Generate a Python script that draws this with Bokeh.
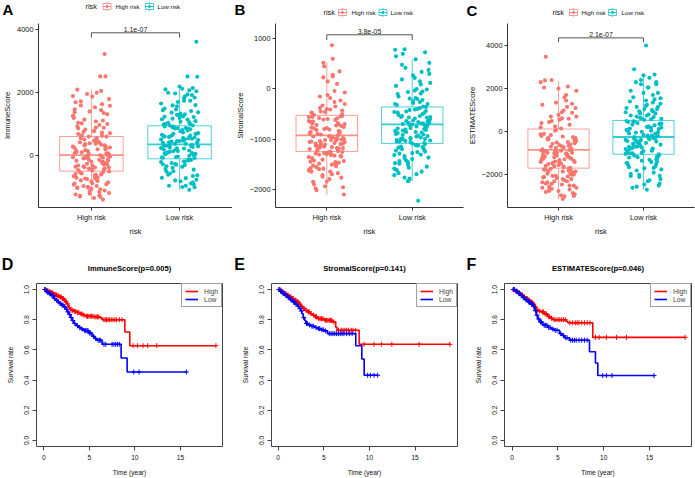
import numpy as np
from bokeh.plotting import figure
from bokeh.layouts import row, column
from bokeh.models import (FixedTicker, Label, Legend, LegendItem, PrintfTickFormatter, Range1d)
from bokeh.core.properties import value
from bokeh.embed import file_html
from bokeh.resources import INLINE

FONT = "Liberation Sans"
GG_RED = "#F8766D"
GG_CYAN = "#00BFC4"
R_RED = "#FF0000"
R_BLUE = "#0000FF"

# ---------------- data: box plots (High risk, Low risk) ----------------
GROUPS = ["High risk", "Low risk"]
GROUP_X = [1, 2]

IMM_Q1 = [-487, -95]
IMM_MED = [21, 360]
IMM_Q3 = [614, 952]
IMM_LO = [-1386, -1080]
IMM_HI = [2095, 2200]
IMM_HIGH = [-1390, 250, 1540, -720, 40, -310, 980, -1120, 610, -45, 1880, -560, 330, -960, 120, 2060, -250, 720,
            -1290, 480, -80, 1320, -650, 210, -410, 890, -1010, 15, 1150, -840, 560, -190, 2520, -1230, 380, -30,
            1640, -530, 90, -370, 830, -1180, 690, -130, 1410, -900, 290, -470, 1030, 3230, -760, 160, -590, 1960,
            -20, 430, -1340, 760, -280, 1230, -680, 60, -440, 940, -1060, 520, -150, 1730, -810, 240, -350, 1090,
            -990, 640, -60, 1480, -620, 180, -500, 870, -1150, 400, -230, 1270, -870, 110, -400, 2000, -700, 350,
            -10, 1590, -1270, 800, -330, 1010, -920, 470, -120, 1360, -1020, 2520, -360, 80, -780,
            -1050, 300, 1700, -600, 150, -220, 1120, -880, 500, -70, 1800, -450, 420, -1200, 70, 1900, -310, 650,
            -1100, 560, -160, 1450, -740, 260, -520, 780, -960, 30, 1200, -800, 610, -270, 2100, -1300, 330, -100,
            1600, -420, 200, -580, 900, -1000, 740, -190, 1380, -700, 370, -380, 1050, -1250]
IMM_LOW = [360, -640, 1320, 80, 2080, -260, 720, 1050, -990, 450, 1610, -50, 880, 240, 1930, -420, 560, 1180, -760,
           310, 2200, 20, 990, -180, 1470, 640, -880, 410, 1250, 150, 2510, -330, 800, 1710, -70, 520, 1080, -560,
           280, 1890, 930, -1080, 380, 1380, 110, 2130, -230, 690, 1160, -710, 470, 540, 50, 860, -380, 2050, 600,
           1290, -900, 330, 1820, 200, 1000, -130, 1450, 740, -490, 420, 100, 2520, -20, 580, 1660, -810, 260, 960,
           -290, 1240, 170, 1980, 500, -600, 820, 1370, 60, 670, -950, 1570, 350, 2110, -150, 900, 3620, 430, 1200,
           -440, 620, 230, -40, 1750, 310, -270, 480, 700,
           420, -500, 1150, 150, 1850, -200, 780, 960, -850, 520, 1500, 0, 870, 300, 2000, -350, 640, 1100, -700,
           380, 1300, 90, 1010, -120, 1600, 700, -950, 470, 1230, 210, 1750, -280, 840, 1420, -60, 560, 930, -620,
           320, 1950, 880, -1000, 250, 1340, 130, 2150, -180, 610, 1060, -780]

STR_Q1 = [-1247, -1087]
STR_MED = [-927, -707]
STR_Q3 = [-527, -360]
STR_LO = [-2107, -1840]
STR_HI = [527, 593]
STR_HIGH = [-930, -1580, -410, -1120, -760, -1900, -260, -1020, -1350, -640, 150, -1210, -850, -1700, -480, -990,
            -1410, -70, -1090, -1800, -580, -1260, -890, 280, -1150, -710, -1530, -350, -1040, -1960, -820, -1300,
            -550, -1650, -960, 520, -1180, -680, -1450, -180, -1070, -2107, -790, -1330, -460, -1010, -1620, -600,
            -1230, -880, 870, -1380, -730, -1750, -300, -1130, -940, -1490, -500, -1060, 600, -1280, -840, -1850,
            -620, -1170, -980, -1560, -400, -1100, -770, -1320, 230, -1000, -1680, -660, -1250, -910, -1440, -520,
            -1080, -1940, -740, -1360, -120, -1140, -860, -1510, -560, -1030, -1720, -700, -1290, -950, -1600, -430,
            -1200, 250, -800, -1470,
            -950, -1500, -380, -1180, -720, -1850, -230, -1050, -1300, -610, 100, -1240, -870, -1650, -450, -1000,
            -1430, -40, -1110, -1770, -560, -1270, -900, 350, -1160, -690, -1540, -330, -1060, -1980, -810, -1310,
            -540, -1630, -970, 450, -1190, -650, -1460, -150, -1090, -2020, -780, -1340, -470, -1020, -1590, -590,
            -1220, -860]
STR_LOW = [-700, -1250, -200, -880, 340, -1510, -560, -990, -30, -1340, -650, 780, -1120, -420, -800, -1680, -90,
           -1040, -580, 190, -1400, -740, -320, -950, -1820, -500, -1180, 60, -860, -640, 520, -1290, -380, -1060,
           -760, -1590, -240, -920, 730, -1130, -470, -690, -1460, 120, -1010, -590, -1770, -300, -840, -2230, -720,
           -1220, -150, -970, 420, -1370, -540, -1090, -820, -1620, 0, -680, -1160, -350, -900, 590, -1430, -620,
           -1050, -260, -780, -1550, -460, 270, -1000, -730, -1260, -100, -870, -1840, -600, -1150, -410, 790, -940,
           -1480, -660, -190, -1080, -520, -1310, -810, 380, -1200, -710, -440, -1020, -1700, -570, -50,
           -690, -1230, -180, -860, 300, -1490, -540, -980, -10, -1320, -630, 700, -1100, -400, -790, -1650, -60,
           -1030, -560, 220, -1380, -720, -300, -930, -1790, -480, -1170, 90, -850, -620, 480, -1280, -360, -1050,
           -750, -1570, -220, -910, 650, -1120, -450, -670, -1440, 150, -990, -570, -1720, -280, -830, -1000]

EST_Q1 = [-1692, -1046]
EST_MED = [-846, -246]
EST_Q3 = [123, 523]
EST_LO = [-3123, -2692]
EST_HI = [2338, 2615]
EST_HIGH = [-850, -2350, 620, -1450, -300, -2800, 1450, -1100, -1900, 210, -620, -2550, -1250, 980, -2100, -480,
            -1600, 1900, -980, -2950, -150, -1350, 400, -2250, -750, -1780, 2380, -1050, -2650, -380, -1500, 780,
            -2000, -900, -3123, 50, -1700, -1200, 1250, -2450, -560, -1850, 3480, -1000, -2150, -250, -1400, 560,
            -2700, -800, -1650, 2050, -1150, -2300, -430, -1950, 150, -700, -2500, -1300, 1600, -2050, -600, -1750,
            -1080, 2400, -2900, -350, -1550, 880, -1250, -2200, -920, -1800, 320, -2600, -680, -1480, 1100, -2400,
            -1020, -500, -1900, 2300, -1380, -2750, -780, -1620, -100, -2080, -1180, 700, -2350, -880, -1720, -2980,
            -200, -1280, 1350, -1950,
            -900, -2300, 500, -1400, -280, -2750, 1300, -1050, -1850, 250, -650, -2500, -1200, 900, -2050, -450,
            -1580, 1700, -950, -2850, -120, -1320, 450, -2200, -720, -1760, 2100, -1000, -2600, -350, -1480, 700,
            -1980, -870, -3000, 80, -1680, -1150, 1150, -2420, -530, -1830, 2000, -980, -2120, -220, -1380, 600,
            -2680, -820]
EST_LOW = [-250, -1500, 800, -700, 1700, -2100, 200, -1000, 1200, -400, -2500, 500, -1300, 2200, -100, -800, 1000,
           -1800, 350, -550, 2615, -1150, 100, -2300, 650, -300, 1500, -900, -2692, 400, -600, 1900, -1400, 0, -200,
           900, -1700, 2900, -450, 250, -1200, 1350, -2000, 600, -750, 4000, -50, -1050, 1100, -350, 2400, -1600,
           150, -850, 700, -2400, 1600, -150, -1250, 450, 2050, -650, -1900, 300, -950, 1250, -500, -2200, 750, 50,
           -1350, 1800, -800, 550, -1100, 2300, -300, -1650, 950, -550, 380, -2600, 1450, -700, 120, -1450, 2500,
           -380, 850, -1000, -180, 1150, -2050, 480, -900, 1050, -1550, 220, -420, 680,
           -280, -1450, 750, -680, 1550, -2050, 180, -980, 1150, -380, -2450, 470, -1280, 2050, -80, -780, 950,
           -1750, 330, -520, 2300, -1120, 80, -2250, 620, -280, 1400, -880, -2550, 380, -580, 1800, -1380, 20, -180,
           850, -1680, 2650, -430, 230, -1180, 1300, -1950, 580, -730, -30, -1030, 1050, -330, 2200]

P_TEXT = ["1.1e-07", "3.8e-05", "2.1e-07"]
Y_LABELS = ["ImmuneScore", "StromalScore", "ESTIMATEScore"]

# fixed jitter pattern (x offsets in category units)
JIT = [0.13, -0.19, 0.04, -0.07, 0.2, -0.15, 0.09, -0.02, 0.17, -0.21, 0.01, -0.11, 0.15, 0.06, -0.17, 0.11,
       -0.05, 0.21, -0.13, 0.03, -0.09, 0.18, -0.2, 0.07, -0.03, 0.14, -0.16, 0.1, -0.08, 0.19, -0.12, 0.0,
       0.16, -0.18, 0.05, -0.04, 0.12]

# ---------------- data: survival curves ----------------
D_HI_T = [0, 0.3, 0.5, 0.73, 1.0, 1.25, 1.46, 1.7, 2.0, 2.2, 2.4, 2.55, 2.65, 2.74, 2.85, 3.0, 3.3, 3.6, 4.0, 4.3,
          4.6, 5.5, 6.2, 6.4, 8.9, 9.44]
D_HI_S = [1.0, 0.993, 0.985, 0.978, 0.97, 0.965, 0.958, 0.95, 0.94, 0.93, 0.918, 0.905, 0.893, 0.882, 0.87, 0.862,
          0.855, 0.848, 0.838, 0.83, 0.823, 0.819, 0.812, 0.80, 0.719, 0.628]
D_HI_C = [0.1, 0.2, 0.35, 0.45, 0.6, 0.7, 0.85, 0.95, 1.05, 1.15, 1.3, 1.4, 1.55, 1.65, 1.8, 1.9, 2.05, 2.15, 2.3,
          2.45, 2.6, 2.8, 3.1, 3.2, 3.4, 3.5, 3.7, 3.85, 4.1, 4.2, 4.4, 4.7, 4.8, 4.95, 5.1, 5.25, 5.4, 5.6, 5.75,
          5.9, 6.05, 6.6, 6.75, 6.9, 7.05, 7.2, 7.4, 7.6, 7.8, 8.0, 8.3, 8.6, 9.8, 10.3, 10.9, 11.4, 12.4, 18.9]
D_LO_T = [0, 0.2, 0.4, 0.55, 0.8, 1.1, 1.3, 1.5, 1.7, 1.95, 2.2, 2.4, 2.56, 2.75, 2.93, 3.1, 3.3, 3.55, 3.84, 4.1,
          4.4, 4.94, 5.3, 5.6, 5.85, 6.4, 8.49, 9.15]
D_LO_S = [1.0, 0.99, 0.98, 0.972, 0.96, 0.94, 0.93, 0.918, 0.908, 0.897, 0.885, 0.87, 0.852, 0.835, 0.815, 0.795,
          0.775, 0.76, 0.748, 0.738, 0.728, 0.712, 0.69, 0.675, 0.664, 0.637, 0.546, 0.454]
D_LO_C = [0.15, 0.3, 0.45, 0.65, 0.75, 0.9, 1.0, 1.2, 1.4, 1.6, 1.8, 2.0, 2.1, 2.3, 2.5, 2.65, 2.85, 3.0, 3.2, 3.4,
          3.7, 3.95, 4.2, 4.5, 4.6, 4.75, 4.85, 5.0, 5.15, 5.45, 5.7, 5.95, 6.1, 6.25, 6.6, 6.8, 7.5, 7.7, 7.9, 8.1,
          8.3, 9.88, 10.46, 15.66]

E_HI_T = [0, 0.25, 0.45, 0.66, 0.9, 1.2, 1.45, 1.75, 2.0, 2.3, 2.5, 2.66, 2.9, 3.2, 3.5, 3.76, 4.0, 4.3, 5.04, 5.95,
          6.3, 6.45, 8.87]
E_HI_S = [1.0, 0.99, 0.982, 0.973, 0.962, 0.951, 0.94, 0.929, 0.917, 0.903, 0.89, 0.875, 0.863, 0.852, 0.84, 0.83,
          0.82, 0.807, 0.796, 0.785, 0.75, 0.73, 0.637]
E_HI_C = [0.1, 0.2, 0.35, 0.5, 0.6, 0.75, 0.85, 1.0, 1.1, 1.3, 1.4, 1.55, 1.65, 1.85, 1.95, 2.1, 2.2, 2.4, 2.55, 2.75,
          2.85, 3.05, 3.3, 3.4, 3.6, 3.9, 4.1, 4.2, 4.45, 4.6, 4.75, 4.9, 5.15, 5.3, 5.45, 5.6, 5.75, 5.85, 6.1,
          6.6, 6.9, 7.1, 7.3, 7.5, 7.7, 8.0, 8.2, 8.5, 9.4, 10.5, 11.3, 12.45, 15.44, 18.8]
E_LO_T = [0, 0.2, 0.47, 0.75, 1.0, 1.3, 1.57, 1.85, 2.1, 2.3, 2.48, 2.6, 2.74, 2.9, 3.03, 3.3, 3.58, 4.0, 4.3, 4.7,
          5.04, 5.4, 8.5, 9.16, 9.42]
E_LO_S = [1.0, 0.99, 0.973, 0.96, 0.947, 0.932, 0.918, 0.903, 0.889, 0.874, 0.858, 0.84, 0.814, 0.795, 0.775, 0.765,
          0.757, 0.748, 0.741, 0.733, 0.726, 0.708, 0.628, 0.54, 0.432]
E_LO_C = [0.1, 0.25, 0.35, 0.55, 0.65, 0.85, 0.95, 1.1, 1.2, 1.4, 1.5, 1.7, 1.8, 1.95, 2.2, 2.4, 2.55, 2.8, 3.1, 3.2,
          3.45, 3.7, 3.85, 4.15, 4.4, 4.55, 4.8, 4.95, 5.2, 5.6, 5.8, 6.0, 6.2, 6.4, 6.6, 6.8, 7.0, 7.2, 7.5, 7.8,
          8.1, 9.8, 10.1, 10.5, 10.9]

F_HI_T = [0, 0.3, 0.62, 0.9, 1.16, 1.45, 1.71, 2.0, 2.26, 2.45, 2.62, 2.9, 3.17, 3.5, 3.9, 4.2, 4.44, 5.9, 6.08, 8.81]
F_HI_S = [1.0, 0.99, 0.978, 0.965, 0.951, 0.94, 0.929, 0.915, 0.903, 0.885, 0.863, 0.857, 0.852, 0.838, 0.82, 0.81,
          0.80, 0.79, 0.78, 0.683]
F_HI_C = [0.1, 0.2, 0.4, 0.5, 0.7, 0.8, 1.0, 1.1, 1.25, 1.35, 1.55, 1.65, 1.8, 1.9, 2.1, 2.2, 2.35, 2.55, 2.7, 2.8,
          3.0, 3.3, 3.4, 3.6, 3.75, 4.0, 4.1, 4.3, 4.6, 4.8, 5.0, 5.2, 5.4, 5.6, 5.8, 6.3, 6.6, 6.9, 7.1, 7.3, 7.6,
          7.9, 8.2, 8.5, 9.1, 9.5, 10.3, 11.4, 12.5, 18.9]
F_LO_T = [0, 0.3, 0.62, 0.9, 1.16, 1.45, 1.71, 2.0, 2.26, 2.45, 2.62, 2.8, 2.99, 3.35, 3.9, 4.3, 4.62, 5.17, 5.45,
          5.72, 6.26, 8.45, 9.1, 9.36]
F_LO_S = [1.0, 0.987, 0.973, 0.96, 0.947, 0.932, 0.918, 0.903, 0.889, 0.86, 0.83, 0.805, 0.785, 0.763, 0.748, 0.738,
          0.73, 0.708, 0.695, 0.681, 0.664, 0.588, 0.513, 0.43]
F_LO_C = [0.15, 0.25, 0.45, 0.55, 0.75, 0.85, 1.05, 1.2, 1.3, 1.5, 1.6, 1.8, 1.9, 2.1, 2.2, 2.35, 2.55, 2.7, 2.9, 3.1,
          3.2, 3.5, 3.65, 3.8, 4.0, 4.15, 4.45, 4.7, 4.9, 5.3, 5.6, 5.85, 6.0, 6.4, 6.6, 6.8, 7.0, 7.3, 7.6, 7.9,
          8.2, 9.9, 10.3, 10.9, 15.5]

KM_TITLES = ["ImmuneScore(p=0.005)", "StromalScore(p=0.141)", "ESTIMATEScore(p=0.046)"]
KM_LEGEND = ["High", "Low"]
PANEL_LETTERS = ["A", "B", "C", "D", "E", "F"]

# ---------------- layout (page px; the page is drawn edge to edge) ----------------
SX = 1.0
SY = 1.0
TOP_STRIP_H = 20          # strip with letters and legends of row 1
ROW1_BOTTOM = 240
MID_STRIP_H = 36          # strip with letters and titles of row 2
ROW2_TOP = ROW1_BOTTOM + MID_STRIP_H
TOTAL_H = 478
COLS = [0, 232, 464, 695]


def make_fig(cell, frame, xr, yr):
    scx0, scy0, scx1, scy1 = cell
    fx0, fy0, fx1, fy1 = frame
    sfx0, sfx1, sfy0, sfy1 = round(fx0 * SX), round(fx1 * SX), round(fy0 * SY), round(fy1 * SY)
    p = figure(width=scx1 - scx0, height=scy1 - scy0,
               x_range=Range1d(*xr), y_range=Range1d(*yr),
               output_backend="svg", toolbar_location=None,
               min_border_left=sfx0 - scx0, min_border_right=scx1 - sfx1,
               min_border_top=sfy0 - scy0, min_border_bottom=scy1 - sfy1)
    p.grid.visible = False
    p.outline_line_color = None
    p.background_fill_color = "white"
    p.border_fill_color = "white"
    return p


def make_strip(height):
    s = figure(width=COLS[-1], height=height, x_range=Range1d(0, COLS[-1]), y_range=Range1d(height, 0),
               output_backend="svg", toolbar_location=None, x_axis_type=None, y_axis_type=None,
               min_border=0, min_border_left=0, min_border_right=0, min_border_top=0, min_border_bottom=0)
    s.grid.visible = False
    s.outline_line_color = None
    s.background_fill_color = "white"
    s.border_fill_color = "white"
    return s


def strip_text(s, top, X, Y, text, size, style="normal", align="center", color="black"):
    s.text(x=[X * SX], y=[Y * SY - top], text=[text], text_font=value(FONT), text_font_size=value(f"{size}px"),
           text_font_style=style, text_align=align, text_baseline="middle", text_color=color)


def style_axis(ax, lab_size, title_size, tick_out, lab_stand, title_stand, color):
    ax.axis_line_color = color
    ax.major_tick_line_color = color
    ax.major_tick_out = tick_out
    ax.major_tick_in = 0
    ax.minor_tick_line_color = None
    ax.major_label_text_font = FONT
    ax.major_label_text_font_size = f"{lab_size}px"
    ax.major_label_text_color = "#111111"
    ax.major_label_standoff = lab_stand
    ax.axis_label_text_font = FONT
    ax.axis_label_text_font_size = f"{title_size}px"
    ax.axis_label_text_font_style = "normal"
    ax.axis_label_text_color = "#111111"
    ax.axis_label_standoff = title_stand


def box_panel(cell, frame, yr, yticks, ylabel, q1, med, q3, lo, hi, pts_h, pts_l, br_top, br_end, ptext):
    p = make_fig(cell, frame, (0.4, 2.6), yr)
    half = 0.36
    cols = [GG_RED, GG_CYAN]
    pts = [pts_h, pts_l]
    for i in range(2):
        x = GROUP_X[i]
        c = cols[i]
        p.segment(x0=[x, x], x1=[x, x], y0=[q3[i], q1[i]], y1=[hi[i], lo[i]], line_color=c, line_width=1,
                  line_alpha=0.7)
        p.quad(left=[x - half], right=[x + half], bottom=[q1[i]], top=[q3[i]], fill_alpha=0.0,
               line_color=c, line_width=1, line_alpha=0.7)
        p.segment(x0=[x - half], x1=[x + half], y0=[med[i]], y1=[med[i]], line_color=c, line_width=1.8,
                  line_alpha=0.8)
        vals = pts[i]
        xs = [x + JIT[(k + 11 * i) % len(JIT)] for k in range(len(vals))]
        p.scatter(xs, vals, size=4.1, fill_color=c, line_color=None)
    # significance bracket
    p.line([1, 1, 2, 2], [br_end, br_top, br_top, br_end], line_color="#555555", line_width=1)
    p.add_layout(Label(x=1.5, y=br_top, text=ptext, text_font=FONT, text_font_size="7px", text_align="center",
                       text_baseline="bottom", y_offset=1, text_color="#222222"))
    p.xaxis.ticker = FixedTicker(ticks=[1, 2])
    p.xaxis.major_label_overrides = {1: GROUPS[0], 2: GROUPS[1]}
    p.xaxis.axis_label = "risk"
    p.yaxis.ticker = FixedTicker(ticks=yticks)
    p.yaxis.axis_label = ylabel
    style_axis(p.xaxis[0], 7.4, 7.6, 3, 2, 2, "#333333")
    style_axis(p.yaxis[0], 7.4, 7.6, 3, 2, 2, "#333333")
    p.yaxis.major_label_orientation = "horizontal"
    return p


def km_panel(cell, frame, xr, hi, lo):
    p = make_fig(cell, frame, xr, (-0.04, 1.04))
    p.outline_line_color = "#444444"
    p.outline_line_width = 1
    rends = []
    for (t, s, c), col in zip([hi, lo], [R_RED, R_BLUE]):
        tt = list(t) + [max(c)]
        ss = list(s) + [s[-1]]
        r = p.step(tt, ss, mode="after", line_color=col, line_width=1.6)
        idx = np.searchsorted(np.array(t), np.array(c), side="right") - 1
        cy = np.array(s)[idx]
        p.scatter(c, cy, marker="cross", size=5, line_color=col, line_width=1)
        rends.append(r)
    p.xaxis.ticker = FixedTicker(ticks=[0, 5, 10, 15])
    p.yaxis.ticker = FixedTicker(ticks=[0, 0.2, 0.4, 0.6, 0.8, 1.0])
    p.yaxis.formatter = PrintfTickFormatter(format="%.1f")
    p.xaxis.axis_label = "Time (year)"
    p.yaxis.axis_label = "Survival rate"
    style_axis(p.xaxis[0], 6.6, 6.6, 4, 4, 6, "#444444")
    style_axis(p.yaxis[0], 6.6, 6.6, 4, 3, 8, "#444444")
    p.xaxis.axis_line_color = None
    p.yaxis.axis_line_color = None
    p.yaxis.major_label_orientation = "vertical"
    leg = Legend(items=[LegendItem(label=KM_LEGEND[0], renderers=[rends[0]]),
                        LegendItem(label=KM_LEGEND[1], renderers=[rends[1]])],
                 location="top_right", margin=0, padding=3, spacing=0, glyph_width=13, glyph_height=8,
                 label_height=8, label_width=14, label_standoff=6, label_text_font=FONT,
                 label_text_font_size="6.8px", border_line_color="#444444", border_line_width=1,
                 background_fill_color="white", background_fill_alpha=1.0)
    p.add_layout(leg)
    return p


# ---------------- row 1: box plots ----------------
pA = box_panel((COLS[0], TOP_STRIP_H, COLS[1], ROW1_BOTTOM), (30, 23, 232, 207), (-1641, 4200), [0, 2000, 4000],
               Y_LABELS[0], IMM_Q1, IMM_MED, IMM_Q3, IMM_LO, IMM_HI, IMM_HIGH, IMM_LOW, 3905, 3755, P_TEXT[0])
pB = box_panel((COLS[1], TOP_STRIP_H, COLS[2], ROW1_BOTTOM), (271, 23, 463, 207), (-2365, 1305),
               [-2000, -1000, 0, 1000], Y_LABELS[1], STR_Q1, STR_MED, STR_Q3, STR_LO, STR_HI, STR_HIGH, STR_LOW,
               1080, 975, P_TEXT[1])
pC = box_panel((COLS[2], TOP_STRIP_H, COLS[3], ROW1_BOTTOM), (500, 23, 694, 207), (-3517, 5021),
               [-2000, 0, 2000, 4000], Y_LABELS[2], EST_Q1, EST_MED, EST_Q3, EST_LO, EST_HI, EST_HIGH, EST_LOW,
               4354, 4154, P_TEXT[2])

# ---------------- row 2: survival curves ----------------
pD = km_panel((COLS[0], ROW2_TOP, COLS[1], TOTAL_H), (36, 283, 222, 446), (-0.8, 19.62),
              (D_HI_T, D_HI_S, D_HI_C), (D_LO_T, D_LO_S, D_LO_C))
pE = km_panel((COLS[1], ROW2_TOP, COLS[2], TOTAL_H), (271, 283, 457, 446), (-0.73, 19.64),
              (E_HI_T, E_HI_S, E_HI_C), (E_LO_T, E_LO_S, E_LO_C))
pF = km_panel((COLS[2], ROW2_TOP, COLS[3], TOTAL_H), (504, 283, 691, 446), (-0.84, 19.6),
              (F_HI_T, F_HI_S, F_HI_C), (F_LO_T, F_LO_S, F_LO_C))

# ---------------- strip 1: panel letters + ggplot legends ----------------
s1 = make_strip(TOP_STRIP_H)
for L, (X, Y) in zip(PANEL_LETTERS[:3], [(7.5, 8.5), (239.5, 9), (471.5, 9.5)]):
    strip_text(s1, 0, X, Y, L, 15, style="bold")
# legend rows: (risk_x, y, key1_cx, text1_x, key2_cx, text2_x)
LEG_POS = [(85, 6, 106.5, 115, 149, 157), (323, 12, 342, 351, 382.5, 390), (552, 12, 573, 581, 612, 621)]
for (rx, ly, k1, t1, k2, t2) in LEG_POS:
    strip_text(s1, 0, rx, ly, "risk", 7.4, align="left", color="#111111")
    for kx, tx, lab, c in [(k1, t1, GROUPS[0], GG_RED), (k2, t2, GROUPS[1], GG_CYAN)]:
        cx, cy = kx * SX, ly * SY
        s1.segment(x0=[cx], x1=[cx], y0=[cy - 4.5], y1=[cy + 4.5], line_color=c, line_alpha=0.7, line_width=1)
        s1.rect(x=[cx], y=[cy], width=8, height=6, fill_color="white", line_color=c, line_alpha=0.7,
                line_width=1)
        s1.segment(x0=[cx - 4], x1=[cx + 4], y0=[cy], y1=[cy], line_color=c, line_alpha=0.8, line_width=1)
        s1.scatter(x=[cx], y=[cy], size=2.8, fill_color=c, line_color=None)
        strip_text(s1, 0, tx, ly, lab, 6.2, align="left", color="#111111")

# ---------------- strip 2: panel letters + survival titles ----------------
s2 = make_strip(MID_STRIP_H)
for L, (X, Y) in zip(PANEL_LETTERS[3:], [(7, 264), (239, 264), (471, 264)]):
    strip_text(s2, ROW1_BOTTOM, X, Y, L, 16, style="bold")
for T, X in zip(KM_TITLES, [129, 364, 597.5]):
    strip_text(s2, ROW1_BOTTOM, X, 268, T, 7.6, style="bold")

layout = column(s1, row(pA, pB, pC, spacing=0), s2, row(pD, pE, pF, spacing=0), spacing=0)

open("out.html", "w").write(file_html(layout, INLINE))
